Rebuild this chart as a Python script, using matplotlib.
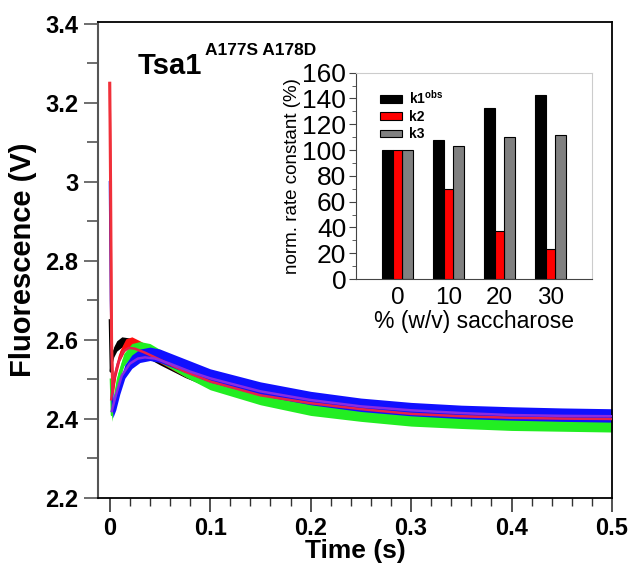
import matplotlib
matplotlib.use("Agg")
import matplotlib.pyplot as plt
from matplotlib.ticker import MultipleLocator

FONT = 'Liberation Sans'

# ---------------- main traces ----------------
black_t = [0, 0.001, 0.002, 0.004, 0.007, 0.012, 0.02, 0.03, 0.05, 0.075, 0.1, 0.15, 0.2, 0.25, 0.3, 0.35, 0.4, 0.45, 0.5]
black_v = [2.65, 2.52, 2.55, 2.57, 2.585, 2.595, 2.592, 2.578, 2.55, 2.518, 2.492, 2.458, 2.433, 2.418, 2.405, 2.398, 2.392, 2.388, 2.386]
black_n = 0.013

red_t = [0, 0.0008, 0.0018, 0.003, 0.006, 0.01, 0.016, 0.022, 0.03, 0.05, 0.075, 0.1, 0.15, 0.2, 0.25, 0.3, 0.35, 0.4, 0.45, 0.5]
red_v = [3.25, 3.0, 2.6, 2.47, 2.52, 2.56, 2.59, 2.595, 2.585, 2.555, 2.52, 2.493, 2.458, 2.433, 2.418, 2.406, 2.399, 2.394, 2.391, 2.389]
red_n = 0.013

green_t = [0.001, 0.002, 0.004, 0.008, 0.014, 0.022, 0.03, 0.04, 0.05, 0.075, 0.1, 0.15, 0.2, 0.25, 0.3, 0.35, 0.4, 0.45, 0.5]
green_v = [2.5, 2.41, 2.44, 2.5, 2.55, 2.575, 2.58, 2.575, 2.56, 2.523, 2.49, 2.452, 2.425, 2.41, 2.398, 2.392, 2.387, 2.385, 2.383]
green_n = 0.016

blue_t = [0, 0.001, 0.003, 0.006, 0.01, 0.015, 0.022, 0.03, 0.04, 0.05, 0.075, 0.1, 0.15, 0.2, 0.25, 0.3, 0.35, 0.4, 0.45, 0.5]
blue_v = [3.0, 2.7, 2.42, 2.44, 2.48, 2.52, 2.545, 2.56, 2.565, 2.56, 2.535, 2.51, 2.477, 2.453, 2.436, 2.425, 2.418, 2.414, 2.411, 2.409]
blue_n = 0.017

fit1_t = [0.0015, 0.004, 0.008, 0.013, 0.019, 0.025, 0.035, 0.05, 0.075, 0.1, 0.15, 0.2, 0.25, 0.3, 0.35, 0.4, 0.45, 0.5]
fit1_v = [2.45, 2.5, 2.54, 2.57, 2.58, 2.578, 2.568, 2.55, 2.52, 2.495, 2.46, 2.44, 2.425, 2.413, 2.407, 2.403, 2.401, 2.4]

fit2_t = [0.002, 0.006, 0.012, 0.02, 0.028, 0.035, 0.045, 0.06, 0.08, 0.1, 0.15, 0.2, 0.25, 0.3, 0.35, 0.4, 0.45, 0.5]
fit2_v = [2.42, 2.46, 2.51, 2.54, 2.553, 2.556, 2.553, 2.54, 2.52, 2.503, 2.47, 2.448, 2.432, 2.422, 2.415, 2.41, 2.408, 2.407]

y_ticks = [2.2, 2.4, 2.6, 2.8, 3.0, 3.2, 3.4]
y_ticklabels = ['2.2', '2.4', '2.6', '2.8', '3', '3.2', '3.4']
x_ticks = [0, 0.1, 0.2, 0.3, 0.4, 0.5]
x_ticklabels = ['0', '0.1', '0.2', '0.3', '0.4', '0.5']

# ---------------- inset bars ----------------
sacch = [0, 10, 20, 30]
k1 = [100, 108, 133, 143]
k2 = [100, 70, 37, 23]
k3 = [100, 103, 110, 112]

fig = plt.figure(figsize=(6.34, 5.71), dpi=100)
ax = fig.add_axes([98/634, 1 - 498/571, (612-98)/634, (498-22)/571])

for t, v, n, c in [(black_t, black_v, black_n, 'black'),
                   (red_t, red_v, red_n, '#ff1010'),
                   (green_t, green_v, green_n, '#22ee22'),
                   (blue_t, blue_v, blue_n, '#1010ff')]:
    lo = [x - n for x in v]
    hi = [x + n for x in v]
    ax.fill_between(t, lo, hi, color=c, lw=0, zorder=2)
    ax.plot(t, v, color=c, lw=1.5, zorder=2)

ax.plot(red_t[:4], red_v[:4], color='#f0303a', lw=2.2, zorder=3)
ax.plot(fit1_t, fit1_v, color='#e8204a', lw=1.8, zorder=4)
ax.plot(fit2_t, fit2_v, color='#8a2be2', lw=1.8, zorder=4)

ax.set_xlim(-0.0117, 0.5)
ax.set_ylim(2.2, 3.405)
ax.set_yticks(y_ticks)
ax.set_yticklabels(y_ticklabels)
ax.set_xticks(x_ticks)
ax.set_xticklabels(x_ticklabels)
ax.yaxis.set_minor_locator(MultipleLocator(0.1))
ax.xaxis.set_minor_locator(MultipleLocator(0.02))
ax.tick_params(axis='y', which='major', length=10, width=1.2, color='#555555', pad=4)
ax.tick_params(axis='y', which='minor', length=8, width=1.2, color='#555555')
ax.tick_params(axis='x', which='major', length=10, width=1.2, color='#333333', pad=4)
ax.tick_params(axis='x', which='minor', length=6, width=1.0, color='#333333')
for lab in ax.get_xticklabels() + ax.get_yticklabels():
    lab.set_fontfamily(FONT)
    lab.set_fontweight('bold')
    lab.set_fontsize(17)
ax.spines['left'].set_color('#555555')
ax.spines['left'].set_linewidth(1.5)
for s in ['top', 'right', 'bottom']:
    ax.spines[s].set_color('black')
    ax.spines[s].set_linewidth(1.3)
ax.set_xlabel('Time (s)', fontfamily=FONT, fontweight='bold', fontsize=19, labelpad=-1)
ax.set_ylabel('Fluorescence (V)', fontfamily=FONT, fontweight='bold', fontsize=21, labelpad=6)

fig.text(138/634, 1 - 74/571, 'Tsa1', fontfamily=FONT, fontweight='bold', fontsize=21)
fig.text(205/634, 1 - 55/571, 'A177S A178D', fontfamily=FONT, fontweight='bold', fontsize=12.5)

# ---------------- inset ----------------
ia = fig.add_axes([356/634, 1 - 279/571, (592-356)/634, (279-72.7)/571])
ia.bar([s - 1.95 for s in sacch], k1, width=2.2, color='black', edgecolor='black', lw=0.8, label='k1$^{\\mathregular{obs}}$', zorder=2)
ia.bar(sacch, k2, width=1.75, color='#ff0000', edgecolor='black', lw=0.8, label='k2', zorder=3)
ia.bar([s + 1.95 for s in sacch], k3, width=2.2, color='#808080', edgecolor='black', lw=0.8, label='k3', zorder=2)
ia.set_xlim(-8.1, 38.1)
ia.set_ylim(0, 160)
ia.set_xticks(sacch)
ia.set_xticklabels([str(s) for s in sacch])
ia.set_yticks(range(0, 161, 20))
ia.yaxis.set_minor_locator(MultipleLocator(10))
ia.tick_params(axis='x', length=0, pad=6)
ia.tick_params(axis='y', which='major', length=5, color='#444444', pad=2)
ia.tick_params(axis='y', which='minor', length=3, color='#444444')
for lab in ia.get_yticklabels():
    lab.set_fontfamily(FONT)
    lab.set_fontsize(19)
for lab in ia.get_xticklabels():
    lab.set_fontfamily(FONT)
    lab.set_fontsize(17.5)
ia.spines['left'].set_color('#444444')
ia.spines['bottom'].set_color('#444444')
ia.spines['top'].set_color('#cccccc')
ia.spines['right'].set_color('#cccccc')
ia.set_xlabel('% (w/v) saccharose', fontfamily=FONT, fontsize=16.5, labelpad=0.5)
ia.set_ylabel('norm. rate constant (%)', fontfamily=FONT, fontsize=13.5, labelpad=1)
leg = ia.legend(loc='upper left', bbox_to_anchor=(0.06, 0.97), frameon=False,
                prop={'family': FONT, 'weight': 'bold', 'size': 10},
                handlelength=1.6, handleheight=0.5, labelspacing=0.25, handletextpad=0.5, borderpad=0.2)

fig.savefig('out.png', dpi=100)
